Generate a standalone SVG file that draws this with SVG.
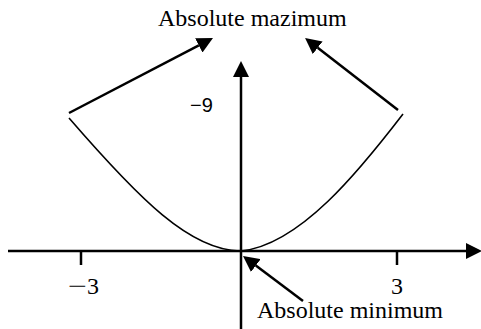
<svg xmlns="http://www.w3.org/2000/svg" width="481" height="329" viewBox="0 0 481 329">
<style>
.ax{stroke:#000;stroke-width:2.5;fill:none}
.cv{stroke:#000;stroke-width:1.6;fill:none}
.ar{stroke:#000;stroke-width:2.5;fill:none;marker-end:url(#ah)}
.serif{font-family:"Liberation Serif","Times New Roman",serif;font-size:24px;fill:#000}
.sans{font-family:"Liberation Sans",Arial,sans-serif;font-size:20px;fill:#000}
</style>
<defs>
<marker id="ah" viewBox="0 0 16 16" markerWidth="16" markerHeight="16" refX="0" refY="8" orient="auto" markerUnits="userSpaceOnUse">
<path d="M0,0 L16,8 L0,16 z" fill="#000"/>
</marker>
</defs>
<rect width="481" height="329" fill="#fff"/>
<g id="axes">
<line class="ar" x1="8" y1="251" x2="466" y2="251"/>
<line class="ar" x1="241" y1="329" x2="241" y2="77"/>
<line class="ax" x1="81" y1="251" x2="81" y2="265"/>
<line class="ax" x1="397" y1="251" x2="397" y2="265"/>
</g>
<g id="curve">
<path class="cv" d="M69,118 C140,200 190,250 240,251"/>
<path class="cv" d="M241,251 C300,245 360,170 403,114"/>
</g>
<g id="connectors">
<line class="ar" x1="69" y1="113" x2="198.8" y2="45.4"/>
<line class="ar" x1="398" y1="110" x2="317.7" y2="47.8"/>
<line class="ar" x1="303" y1="301" x2="255.8" y2="265.6"/>
</g>
<g id="labels">
<text class="serif" x="158" y="26">Absolute mazimum</text>
<text class="serif" x="257" y="318">Absolute minimum</text>
<text class="serif" y="294"><tspan x="68" textLength="19" lengthAdjust="spacingAndGlyphs">−</tspan><tspan x="87">3</tspan></text>
<text class="serif" x="397" y="294" text-anchor="middle">3</text>
<text class="sans" x="190" y="112">−9</text>
</g>
</svg>
